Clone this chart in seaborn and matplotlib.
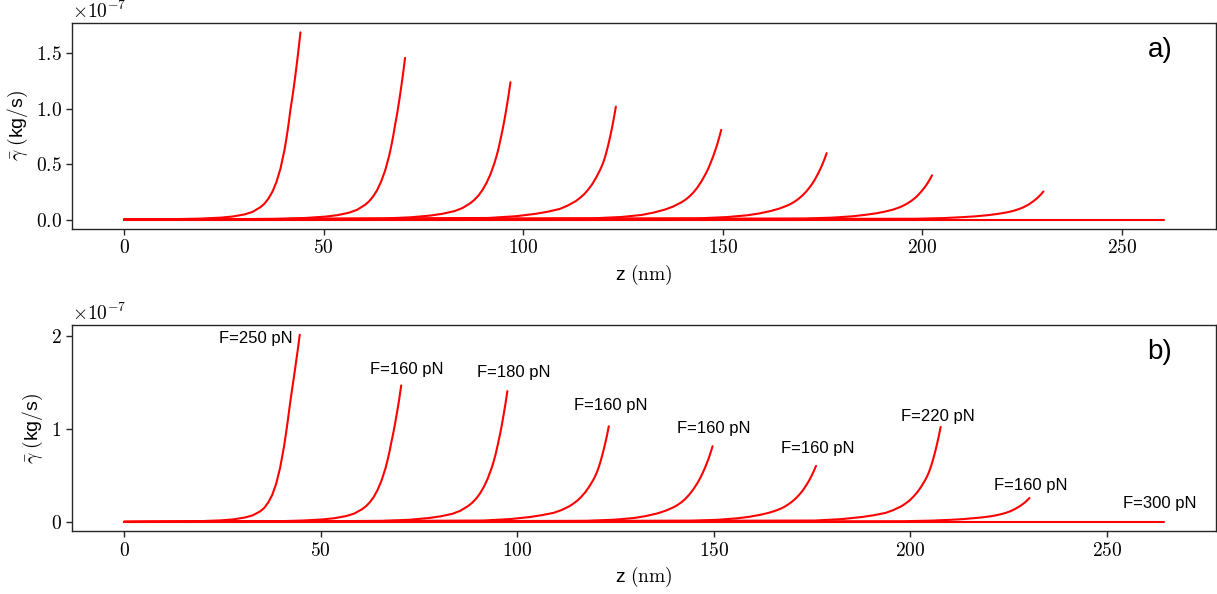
import numpy as np
import pandas as pd
import matplotlib
matplotlib.use("Agg")
import matplotlib.pyplot as plt
import seaborn as sns
from matplotlib.ticker import FuncFormatter, FixedLocator

# ---------------- data (z in nm, gamma in units of 1e-7 kg/s) ----------------
# panel a
a1_z = [44.2, 43.7, 43.2, 42.7, 42.2, 41.7, 41.2, 40.7, 40.2, 39.2, 38.2, 37.2, 36.2, 35.2, 34.2, 32.2, 30.2, 27.2, 24.2, 19.2, 12.2, 0]
a1_g = [1.69, 1.53, 1.38, 1.24, 1.11, 0.995, 0.857, 0.737, 0.629, 0.461, 0.341, 0.254, 0.191, 0.145, 0.113, 0.070, 0.047, 0.028, 0.018, 0.0093, 0.0042, 0]
a2_z = [70.4, 69.9, 69.4, 68.9, 68.4, 67.9, 67.4, 66.9, 66.4, 65.4, 64.4, 63.4, 62.4, 61.4, 60.4, 58.4, 56.4, 53.4, 50.4, 45.4, 38.4, 0]
a2_g = [1.46, 1.317, 1.188, 1.066, 0.953, 0.854, 0.748, 0.656, 0.574, 0.442, 0.343, 0.266, 0.209, 0.166, 0.134, 0.089, 0.063, 0.040, 0.027, 0.015, 0.007, 0]
a3_z = [96.8, 96.3, 95.8, 95.3, 94.8, 94.3, 93.8, 93.3, 92.8, 91.8, 90.8, 89.8, 88.8, 87.8, 86.8, 84.8, 82.8, 79.8, 76.8, 71.8, 64.8, 0]
a3_g = [1.24, 1.116, 1.006, 0.900, 0.807, 0.722, 0.640, 0.572, 0.511, 0.410, 0.331, 0.268, 0.218, 0.180, 0.150, 0.105, 0.077, 0.053, 0.037, 0.021, 0.010, 0]
a4_z = [123.2, 122.7, 122.2, 121.7, 121.2, 120.7, 120.2, 119.7, 119.2, 118.2, 117.2, 116.2, 115.2, 114.2, 113.2, 111.2, 109.2, 106.2, 103.2, 98.2, 91.2, 0]
a4_g = [1.02, 0.916, 0.822, 0.737, 0.660, 0.591, 0.532, 0.485, 0.445, 0.375, 0.316, 0.268, 0.227, 0.196, 0.168, 0.128, 0.097, 0.072, 0.053, 0.031, 0.015, 0]
a5_z = [149.6, 149.1, 148.6, 148.1, 147.6, 147.1, 146.6, 146.1, 145.6, 144.6, 143.6, 142.6, 141.6, 140.6, 139.6, 137.6, 135.6, 132.6, 129.6, 124.6, 117.6, 0]
a5_g = [0.81, 0.743, 0.680, 0.625, 0.573, 0.527, 0.482, 0.442, 0.407, 0.343, 0.289, 0.244, 0.208, 0.179, 0.156, 0.119, 0.092, 0.063, 0.042, 0.024, 0.012, 0]
a6_z = [176.0, 175.5, 175.0, 174.5, 174.0, 173.5, 173.0, 172.5, 172.0, 171.0, 170.0, 169.0, 168.0, 167.0, 166.0, 164.0, 162.0, 159.0, 156.0, 151.0, 144.0, 0]
a6_g = [0.60, 0.550, 0.504, 0.463, 0.426, 0.392, 0.359, 0.330, 0.304, 0.258, 0.220, 0.189, 0.163, 0.142, 0.125, 0.098, 0.078, 0.055, 0.039, 0.023, 0.012, 0]
a7_z = [202.4, 201.9, 201.4, 200.9, 200.4, 199.9, 199.4, 198.9, 198.4, 197.4, 196.4, 195.4, 194.4, 193.4, 192.4, 190.4, 188.4, 185.4, 182.4, 177.4, 170.4, 0]
a7_g = [0.40, 0.367, 0.336, 0.309, 0.284, 0.262, 0.241, 0.222, 0.204, 0.174, 0.150, 0.130, 0.113, 0.100, 0.088, 0.071, 0.057, 0.042, 0.030, 0.018, 0.010, 0]
a8_z = [230.3, 229.8, 229.3, 228.8, 228.3, 227.8, 227.3, 226.8, 226.3, 225.3, 224.3, 223.3, 222.3, 221.3, 220.3, 218.3, 216.3, 213.3, 210.3, 205.3, 198.3, 0]
a8_g = [0.254, 0.233, 0.214, 0.196, 0.181, 0.167, 0.154, 0.141, 0.131, 0.112, 0.097, 0.085, 0.075, 0.067, 0.060, 0.049, 0.040, 0.030, 0.023, 0.014, 0.008, 0]
a9_z = [260.5, 0]
a9_g = [0.0, 0]

# panel b
b1_z = [44.7, 44.2, 43.7, 43.2, 42.7, 42.2, 41.7, 41.2, 40.7, 39.7, 38.7, 37.7, 36.7, 35.7, 34.7, 32.7, 30.7, 27.7, 24.7, 19.7, 12.7, 0]
b1_g = [2.01, 1.85, 1.70, 1.55, 1.41, 1.26, 1.10, 0.95, 0.81, 0.58, 0.41, 0.29, 0.21, 0.152, 0.115, 0.07, 0.047, 0.027, 0.017, 0.009, 0.004, 0]
b2_z = [70.5, 70.0, 69.5, 69.0, 68.5, 68.0, 67.5, 67.0, 66.5, 65.5, 64.5, 63.5, 62.5, 61.5, 60.5, 58.5, 56.5, 53.5, 50.5, 45.5, 38.5, 0]
b2_g = [1.465, 1.32, 1.19, 1.07, 0.956, 0.857, 0.75, 0.658, 0.576, 0.444, 0.344, 0.267, 0.21, 0.167, 0.135, 0.089, 0.063, 0.040, 0.027, 0.015, 0.007, 0]
b3_z = [97.5, 97.0, 96.5, 96.0, 95.5, 95.0, 94.5, 94.0, 93.5, 92.5, 91.5, 90.5, 89.5, 88.5, 87.5, 85.5, 83.5, 80.5, 77.5, 72.5, 65.5, 0]
b3_g = [1.404, 1.264, 1.139, 1.019, 0.914, 0.817, 0.724, 0.647, 0.578, 0.465, 0.375, 0.303, 0.247, 0.204, 0.170, 0.119, 0.087, 0.060, 0.042, 0.023, 0.011, 0]
b4_z = [123.3, 122.8, 122.3, 121.8, 121.3, 120.8, 120.3, 119.8, 119.3, 118.3, 117.3, 116.3, 115.3, 114.3, 113.3, 111.3, 109.3, 106.3, 103.3, 98.3, 91.3, 0]
b4_g = [1.027, 0.922, 0.828, 0.743, 0.664, 0.595, 0.536, 0.488, 0.448, 0.378, 0.318, 0.270, 0.229, 0.197, 0.169, 0.128, 0.098, 0.073, 0.053, 0.031, 0.015, 0]
b5_z = [149.7, 149.2, 148.7, 148.2, 147.7, 147.2, 146.7, 146.2, 145.7, 144.7, 143.7, 142.7, 141.7, 140.7, 139.7, 137.7, 135.7, 132.7, 129.7, 124.7, 117.7, 0]
b5_g = [0.813, 0.746, 0.682, 0.627, 0.576, 0.528, 0.484, 0.444, 0.408, 0.344, 0.290, 0.245, 0.209, 0.180, 0.156, 0.120, 0.092, 0.063, 0.042, 0.024, 0.012, 0]
b6_z = [176.0, 175.5, 175.0, 174.5, 174.0, 173.5, 173.0, 172.5, 172.0, 171.0, 170.0, 169.0, 168.0, 167.0, 166.0, 164.0, 162.0, 159.0, 156.0, 151.0, 144.0, 0]
b6_g = [0.602, 0.552, 0.506, 0.465, 0.427, 0.393, 0.360, 0.331, 0.305, 0.259, 0.221, 0.190, 0.163, 0.142, 0.125, 0.098, 0.078, 0.055, 0.039, 0.023, 0.012, 0]
b7_z = [207.7, 207.2, 206.7, 206.2, 205.7, 205.2, 204.7, 204.2, 203.7, 202.7, 201.7, 200.7, 199.7, 198.7, 197.7, 195.7, 193.7, 190.7, 187.7, 182.7, 175.7, 0]
b7_g = [1.02, 0.916, 0.822, 0.737, 0.660, 0.591, 0.532, 0.485, 0.445, 0.375, 0.316, 0.268, 0.227, 0.196, 0.168, 0.128, 0.097, 0.072, 0.053, 0.031, 0.015, 0]
b8_z = [230.3, 229.8, 229.3, 228.8, 228.3, 227.8, 227.3, 226.8, 226.3, 225.3, 224.3, 223.3, 222.3, 221.3, 220.3, 218.3, 216.3, 213.3, 210.3, 205.3, 198.3, 0]
b8_g = [0.257, 0.236, 0.216, 0.199, 0.183, 0.169, 0.156, 0.143, 0.132, 0.113, 0.098, 0.086, 0.076, 0.067, 0.060, 0.049, 0.041, 0.030, 0.023, 0.014, 0.008, 0]
b9_z = [264.5, 0]
b9_g = [0.0, 0]

b_labels = ["F=250 pN", "F=160 pN", "F=180 pN", "F=160 pN", "F=160 pN",
            "F=160 pN", "F=220 pN", "F=160 pN", "F=300 pN"]
b_label_z = [43.0, 71.8, 99.0, 123.8, 150.0, 176.4, 206.9, 230.5, 263.4]
b_label_g = [1.965, 1.636, 1.60, 1.251, 1.002, 0.788, 1.137, 0.392, 0.193]
b_label_ha = ["right", "center", "center", "center", "center",
              "center", "center", "center", "center"]

SCALE = 1e-7

panel_a = [(a1_z, a1_g), (a2_z, a2_g), (a3_z, a3_g), (a4_z, a4_g), (a5_z, a5_g),
           (a6_z, a6_g), (a7_z, a7_g), (a8_z, a8_g), (a9_z, a9_g)]
panel_b = [(b1_z, b1_g), (b2_z, b2_g), (b3_z, b3_g), (b4_z, b4_g), (b5_z, b5_g),
           (b6_z, b6_g), (b7_z, b7_g), (b8_z, b8_g), (b9_z, b9_g)]


def to_frame(curves):
    rows = []
    for i, (zs, gs) in enumerate(curves):
        for z, g in zip(zs, gs):
            rows.append({"curve": i, "z": z, "gamma": g * SCALE})
    return pd.DataFrame(rows)


# ---------------- style ----------------
sns.set_theme(style="ticks")
plt.rcParams["font.family"] = ["Liberation Sans", "DejaVu Sans"]
plt.rcParams["mathtext.fontset"] = "cm"
plt.rcParams["axes.edgecolor"] = "0.15"
plt.rcParams["xtick.color"] = "0.15"
plt.rcParams["ytick.color"] = "0.15"
plt.rcParams["text.color"] = "black"
plt.rcParams["axes.labelcolor"] = "black"
plt.rcParams["xtick.labelcolor"] = "black"
plt.rcParams["ytick.labelcolor"] = "black"
plt.rcParams["axes.linewidth"] = 1.0

fig = plt.figure(figsize=(12.17, 5.94), dpi=100)
ax_a = fig.add_axes([72 / 1217, 365 / 594, 1144 / 1217, 206 / 594])
ax_b = fig.add_axes([72 / 1217, 62.7 / 594, 1144 / 1217, 206 / 594])

for ax, curves in ((ax_a, panel_a), (ax_b, panel_b)):
    df = to_frame(curves)
    sns.lineplot(data=df, x="z", y="gamma", units="curve", estimator=None,
                 color="red", linewidth=1.5, ax=ax, legend=False)

ax_a.yaxis.set_major_locator(FixedLocator([0, 0.5e-7, 1.0e-7, 1.5e-7]))
ax_a.yaxis.set_major_formatter(FuncFormatter(lambda v, p: r"$%.1f$" % (v / SCALE)))
ax_b.yaxis.set_major_locator(FixedLocator([0, 1e-7, 2e-7]))
ax_b.yaxis.set_major_formatter(FuncFormatter(lambda v, p: r"$%d$" % round(v / SCALE)))

for ax, tag in ((ax_a, "a)"), (ax_b, "b)")):
    ax.xaxis.set_major_locator(FixedLocator([0, 50, 100, 150, 200, 250]))
    ax.xaxis.set_major_formatter(FuncFormatter(lambda v, p: r"$%d$" % round(v)))
    ax.tick_params(labelsize=14, length=4, width=1.0, direction="out")
    ax.set_xlabel(r"z $(\mathrm{nm})$", fontsize=14)
    ax.set_ylabel(r"$\bar{\gamma}$ $($kg$/$s$)$", fontsize=14)
    ax.text(0.0, 1.005, r"$\times10^{-7}$", transform=ax.transAxes,
            ha="left", va="bottom", fontsize=14)
    ax.text(0.951, 0.87, tag, transform=ax.transAxes, ha="center",
            va="center", fontsize=20)

for lab, z, g, ha in zip(b_labels, b_label_z, b_label_g, b_label_ha):
    ax_b.text(z, g * SCALE, lab, ha=ha, va="center", fontsize=12)

fig.savefig("out.png", dpi=100)
